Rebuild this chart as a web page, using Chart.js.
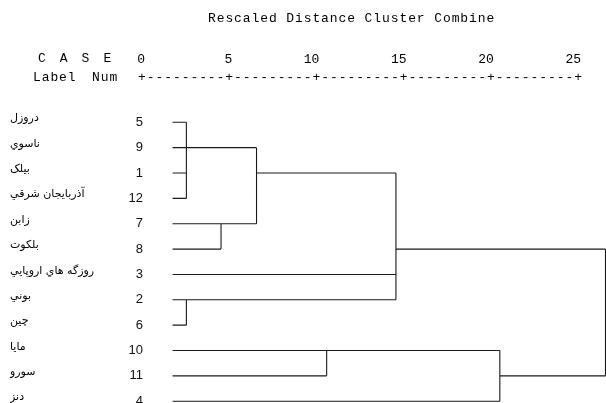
<!DOCTYPE html>
<html>
<head>
<meta charset="utf-8">
<script src="https://cdn.jsdelivr.net/npm/chart.js@4.4.1/dist/chart.umd.min.js"></script>
<style>
    html, body { margin: 0; padding: 0; background: #fff; }
    #dendro { display: block; }
</style>
</head>
<body>
<canvas id="dendro" width="606" height="403"></canvas>
<script>
// ---------------------------------------------------------
// data (rescaled 0-25)
// ---------------------------------------------------------
const caseNames = ['دروزل', 'ناسوي', 'بيلک', 'آذربايجان شرقي', 'زابن', 'بلکوت',
    'روزگه هاي اروپايي', 'بوني', 'چين', 'مايا', 'سورو', 'دنز'];
const caseNums = [5, 9, 1, 12, 7, 8, 3, 2, 6, 10, 11, 4];
const distTicks = [0, 5, 10, 15, 20, 25];

// joins: leaves are rows 0-11, joined clusters get ids 12, 13, ...
const joinChildren = [[0, 1, 2, 3], [4, 5], [12, 13], [7, 8], [14, 6, 15], [9, 10], [17, 11], [16, 18]];
const joinDist = [0.8, 2.8, 4.85, 0.8, 12.9, 8.9, 18.9, 25];
const joinRow = [1, 4, 2, 7, 5, 9, 10, 7]; // row the cluster line leaves from

const MONO = "'Liberation Mono', 'DejaVu Sans Mono', monospace";

function rowOf(id) { return id < caseNums.length ? id : joinRow[id - caseNums.length]; }
function distOf(id) { return id < caseNums.length ? 0 : joinDist[id - caseNums.length]; }

// segments of the tree, separated by gaps (y: null)
function buildTree() {
    const pts = [];
    joinChildren.forEach((kids, j) => {
        const d = joinDist[j];
        const rows = kids.map(rowOf);
        kids.forEach(k => {
            pts.push({ x: distOf(k), y: rowOf(k) }, { x: d, y: rowOf(k) }, { x: d, y: null });
        });
        pts.push({ x: d, y: Math.min(...rows) }, { x: d, y: Math.max(...rows) }, { x: d, y: null });
    });
    return pts;
}

const rowTicks = scale => { scale.ticks = caseNums.map((_, i) => ({ value: i })); };

// axes must not ask the layout for extra room around their labels
function noPad(scale) {
    scale.paddingTop = 0;
    scale.paddingBottom = 0;
    scale.paddingLeft = 0;
    scale.paddingRight = 0;
}

// header text: title, CASE / Label Num, and the +----+ ruler
const headerPlugin = {
    id: 'header',
    afterDraw(chart) {
        const ctx = chart.ctx;
        const s = chart.scales.xTop;
        ctx.save();
        ctx.fillStyle = '#000';
        ctx.textBaseline = 'middle';
        ctx.font = '13px ' + MONO;
        ctx.letterSpacing = '0.9px';
        ctx.textAlign = 'left';
        ctx.fillText('Rescaled Distance Cluster Combine', 208, 19);
        ['C', 'A', 'S', 'E'].forEach((c, i) => ctx.fillText(c, 38 + i * 21.8, 59));
        ctx.fillText('Label', 33, 78);
        ctx.fillText('Num', 92, 78);
        ctx.letterSpacing = '0px';
        ctx.textAlign = 'center';
        const px = distTicks.map(v => s.getPixelForValue(v) - 3);
        px.forEach((p, i) => {
            ctx.fillText('+', p, 78);
            if (i < px.length - 1) {
                for (let k = 1; k < 10; k++) ctx.fillText('-', p + (px[i + 1] - p) * k / 10, 78);
            }
        });
        ctx.restore();
    }
};

new Chart(document.getElementById('dendro'), {
    type: 'line',
    data: {
        datasets: [{
            data: buildTree(),
            borderColor: '#1a1a1a',
            borderWidth: 1.1,
            pointRadius: 0,
            spanGaps: false,
            clip: false,
            xAxisID: 'x',
            yAxisID: 'y'
        }]
    },
    options: {
        responsive: false,
        animation: false,
        events: [],
        layout: { padding: { left: 10, right: 0, top: 0, bottom: 0 } },
        plugins: { legend: { display: false }, tooltip: { enabled: false } },
        scales: {
            x: { type: 'linear', display: false, min: -1.59, max: 25.03 },
            xTop: {
                type: 'linear', position: 'top', min: 0, max: 26.43,
                afterBuildTicks: s => { s.ticks = distTicks.map(v => ({ value: v })); },
                afterFit: s => { s.height = 100; noPad(s); },
                grid: { display: false, drawTicks: false, tickLength: 0 },
                border: { display: false },
                ticks: {
                    align: 'end', padding: 33, autoSkip: false, maxRotation: 0,
                    color: '#000', font: { family: MONO, size: 13 }
                }
            },
            y: {
                type: 'linear', position: 'left', reverse: true, min: -0.88, max: 11.07, weight: 0,
                afterBuildTicks: rowTicks,
                afterFit: s => { s.width = 35; noPad(s); },
                grid: { display: false, drawTicks: false, tickLength: 0 },
                border: { display: false },
                ticks: {
                    padding: 2, autoSkip: false, color: '#111',
                    font: { family: "'Liberation Sans', Arial, sans-serif", size: 13 },
                    callback: v => caseNums[v]
                }
            },
            yName: {
                type: 'linear', position: 'left', reverse: true, min: -0.73, max: 11.22, weight: 1,
                afterBuildTicks: rowTicks,
                afterFit: s => { s.width = 100; noPad(s); },
                grid: { display: false, drawTicks: false, tickLength: 0 },
                border: { display: false },
                ticks: {
                    crossAlign: 'far', autoSkip: false, color: '#000',
                    font: { family: "'DejaVu Sans', sans-serif", size: 11 },
                    callback: v => caseNames[v]
                }
            }
        }
    },
    plugins: [headerPlugin]
});
</script>
</body>
</html>
